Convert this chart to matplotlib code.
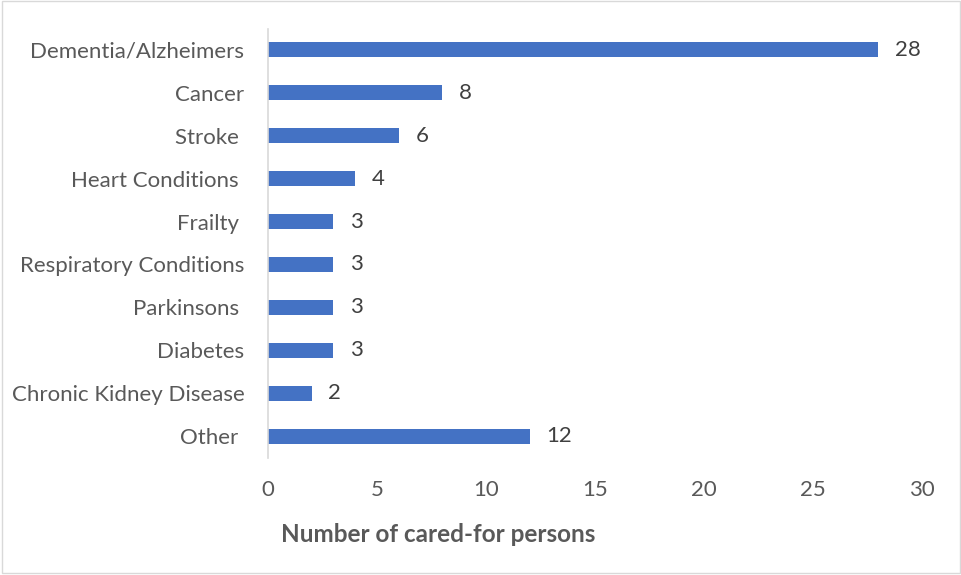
import matplotlib.pyplot as plt
from matplotlib.patches import Rectangle

plt.rcParams['font.family'] = ['Lato', 'DejaVu Sans']

conditions = ['Dementia/Alzheimers', 'Cancer', 'Stroke ', 'Heart Conditions ', 'Frailty ',
              'Respiratory Conditions', 'Parkinsons ', 'Diabetes', 'Chronic Kidney Disease', 'Other ']
counts = [28, 8, 6, 4, 3, 3, 3, 3, 2, 12]
x_ticks = [0, 5, 10, 15, 20, 25, 30]

fig = plt.figure(figsize=(9.62, 5.75), dpi=100)
ax = fig.add_axes([0.2786, 0.2043, 0.6798, 0.7461])

y = list(range(len(conditions)))
bars = ax.barh(y, counts, height=0.35, color='#4472C4')

# value labels to the right of each bar
for rect, v in zip(bars, counts):
    ax.annotate(str(v), (rect.get_width(), rect.get_y() + rect.get_height() / 2),
                xytext=(12, 0), textcoords='offset points', va='center', ha='left',
                fontsize=16, color='#404040')

ax.set_ylim(len(conditions) - 0.5, -0.5)
ax.set_xlim(0, 30)
ax.set_yticks(y)
ax.set_yticklabels(conditions, fontsize=16, color='#595959')
ax.set_xticks(x_ticks)
ax.set_xticklabels([str(t) for t in x_ticks], fontsize=16, color='#595959')
ax.tick_params(axis='both', length=0)
ax.tick_params(axis='x', pad=16)
ax.tick_params(axis='y', pad=17)

for s in ['top', 'right', 'bottom']:
    ax.spines[s].set_visible(False)
ax.spines['left'].set_color('#D9D9D9')
ax.spines['left'].set_linewidth(1.2)

fig.text(438 / 962, 1 - 535 / 575, 'Number of cared-for persons', ha='center', va='center',
         fontsize=17.5, fontweight='bold', color='#595959')

# thin frame around the whole chart
fig.patches.append(Rectangle((0.002, 0.003), 0.996, 0.995, transform=fig.transFigure,
                             fill=False, edgecolor='#D9D9D9', linewidth=1))

plt.savefig('out.png', dpi=100)
